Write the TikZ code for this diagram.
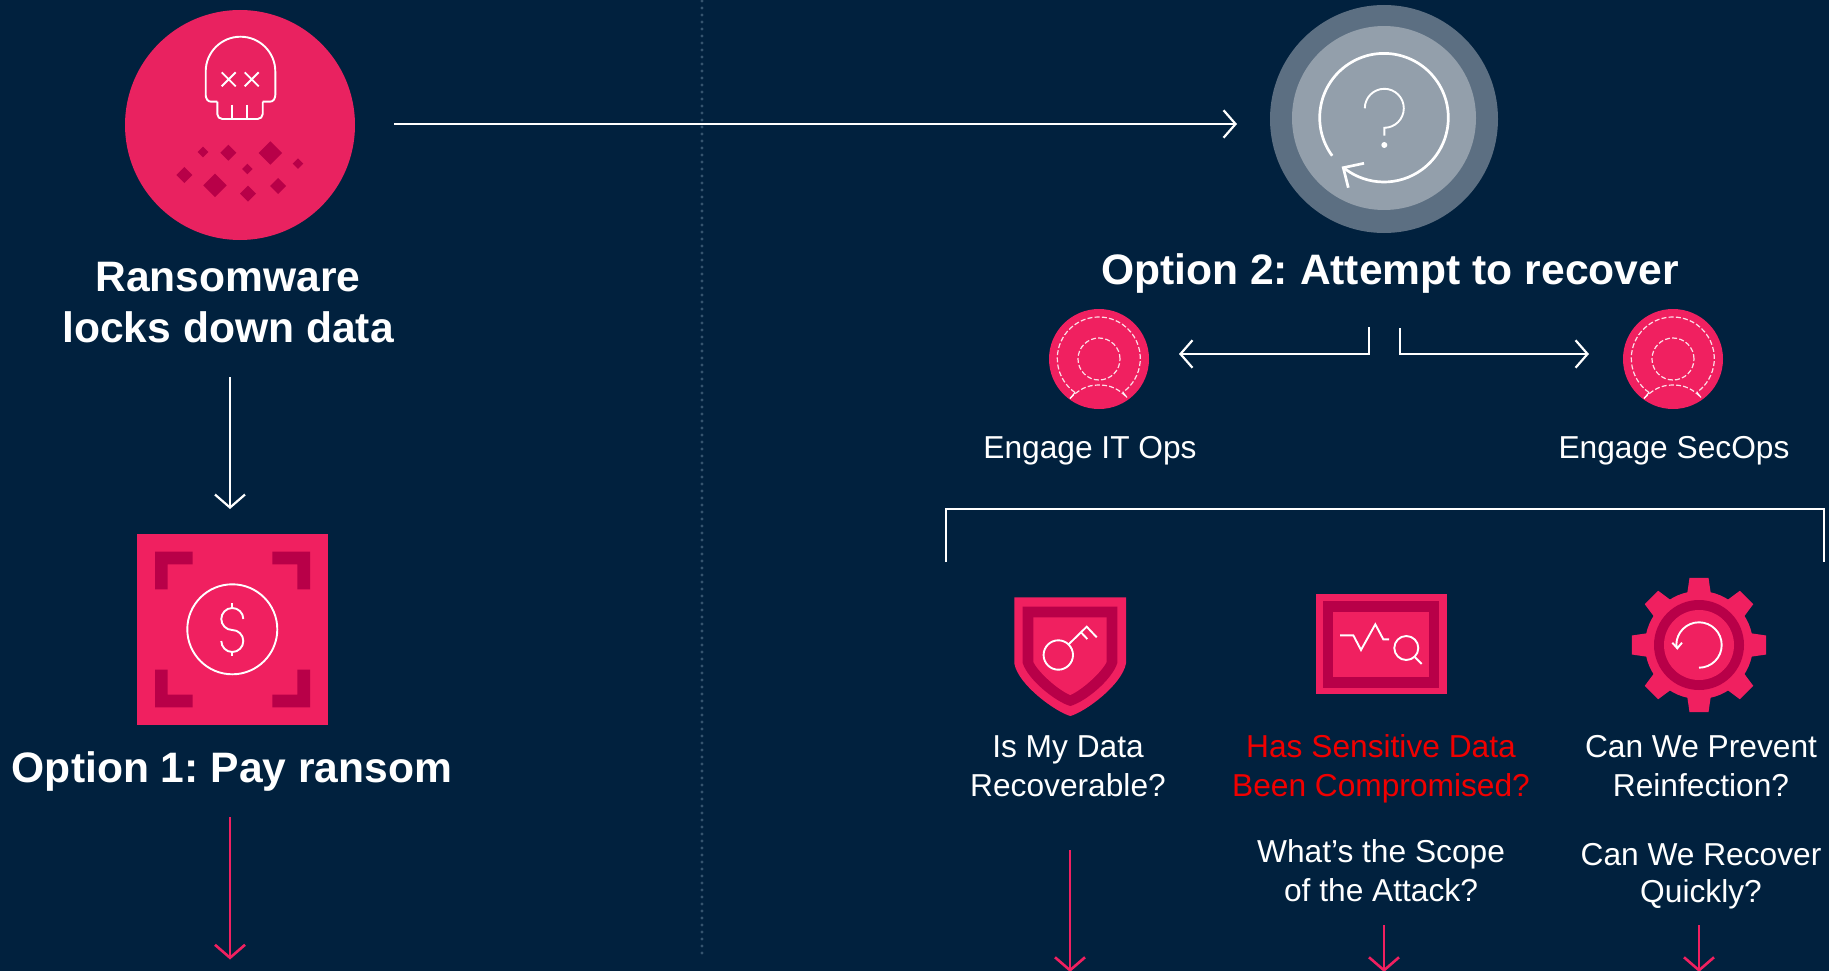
\documentclass[tikz,border=0pt]{standalone}
\usepackage{fontspec}
\setmainfont{Liberation Sans}
\usetikzlibrary{arrows.meta}
\frenchspacing
\definecolor{bgc}{HTML}{01213E}
\definecolor{pnk}{HTML}{F02060}
\definecolor{pnkb}{HTML}{E92260}
\definecolor{drk}{HTML}{B80048}
\definecolor{gro}{HTML}{5C6F82}
\definecolor{gri}{HTML}{939FAB}
\definecolor{dotc}{HTML}{35546E}
\definecolor{redt}{HTML}{F00000}
\tikzset{
  title/.style={text=white,align=center,inner sep=0pt,font=\fontsize{42.6}{51.5}\selectfont\bfseries},
  label/.style={text=white,align=center,inner sep=0pt,font=\fontsize{31.7}{38.7}\selectfont},
  redlabel/.style={label,text=redt},
  wline/.style={draw=white,line width=2.2pt,line join=miter},
  wbar/.style={wline,-{Straight Barb[length=13pt,width=30pt,line width=2.2pt]}},
  wbarh/.style={wline,-{Straight Barb[length=12pt,width=27.5pt,line width=2.2pt]}},
  pbar/.style={draw=pnk,line width=2.6pt,-{Straight Barb[length=13pt,width=30pt,line width=2.6pt]}},
  fineline/.style={draw=white,line width=1.9pt},
  dashline/.style={draw=white,draw opacity=.85,line width=1.2pt,dash pattern=on 5pt off 2.2pt},
  dia/.style={fill=drk,draw=none},
  person/.pic={
    \fill[pnk] (0,0) circle[radius=50];
    \draw[dashline] (-24,-33.5) arc[start angle=235,end angle=-55,radius=41.5];
    \draw[dashline] (0,0) circle[radius=21];
    \draw[dashline] (-29,-39.5) to[out=45,in=180] (0,-26) to[out=0,in=135] (28,-38.5);
    \draw[white,line width=1.1pt] (-24,-33.5) -- (-29,-39.5) (24,-33.5) -- (28,-38.5);
  }
}
\begin{document}
\begin{tikzpicture}[x=1pt,y=1pt]
\path[use as bounding box,fill=bgc] (0,0) rectangle (1829,-971);
\clip (0,0) rectangle (1829,-971);

% divider
\coordinate (divtop) at (702,-1);
\coordinate (divbot) at (702,-958);
\draw[dotc,line width=3.2pt,line cap=round,dash pattern=on 0pt off 7pt] (divtop) -- (divbot);

% ransomware icon
\fill[pnkb] (240,-125) circle[radius=115];
\draw[fineline,rounded corners=5pt] (217.3,-101.7) -- (217.3,-119) -- (262.7,-119) -- (262.7,-101.7);
\draw[fineline] (217.3,-101.7) -- (211,-101.7) to[out=180,in=-90] (205.7,-95) -- (205.7,-71.5)
  arc[start angle=180,end angle=0,radius=34.8] -- (275.3,-95) to[out=-90,in=0] (270,-101.7) -- (262.7,-101.7);
\draw[fineline] (232.3,-104.7) -- (232.3,-119) (247.3,-104.7) -- (247.3,-119);
\draw[fineline] (221.7,-72.3) -- (235.7,-86.3) (221.7,-86.3) -- (235.7,-72.3)
  (244.7,-72.3) -- (258.7,-86.3) (244.7,-86.3) -- (258.7,-72.3);
\foreach \zx/\zy/\h in {279/456/5.3,355/458/8,481/459/11.7,564/491/5.3,412/507/5.3,223/525/8,315/556/11.7,414/581/8,504/558/8}{
  \pgfmathsetmacro{\cx}{110+\zx/3}
  \pgfmathsetmacro{\cy}{-\zy/3}
  \fill[dia] (\cx-\h,\cy) -- (\cx,\cy+\h) -- (\cx+\h,\cy) -- (\cx,\cy-\h) -- cycle;
}
\node[title] (ransom) at (228,-302.5) {Ransomware\\locks down data};

% recover icon
\fill[gro] (1384,-119) circle[radius=114];
\fill[gri] (1384,-118) circle[radius=92];
\draw[white,line width=2.7pt] (1384,-117.7) ++(216.3:64.3) arc[start angle=216.3,end angle=-127.5,radius=64.3];
\draw[white,line width=2.7pt,line join=miter] (1364,-163.3) -- (1343.3,-167.7) -- (1348.3,-187.7);
\draw[fineline] (1364.8,-108.3) arc[start angle=180,end angle=-90,radius=19.5] -- (1384.3,-135.7);
\fill[white] (1384.3,-145) circle[radius=3];
\node[title] (opt2) at (1390,-273.5) {Option 2: Attempt to recover};

% top arrow
\coordinate (a1s) at (394,-124);
\coordinate (a1e) at (1237,-124);
\draw[wbarh] (a1s) -- (a1e);

% down arrow
\coordinate (a2s) at (230,-377);
\coordinate (a2e) at (230,-509);
\draw[wbar] (a2s) -- (a2e);

% pay icon
\fill[pnk] (137,-534) rectangle (328,-725);
\fill[drk] (155,-551.7) -- (192.7,-551.7) -- (192.7,-564.4) -- (167.7,-564.4) -- (167.7,-589.4) -- (155,-589.4) -- cycle;
\fill[drk] (310,-551.7) -- (272.3,-551.7) -- (272.3,-564.4) -- (297.3,-564.4) -- (297.3,-589.4) -- (310,-589.4) -- cycle;
\fill[drk] (155,-707.3) -- (192.7,-707.3) -- (192.7,-694.6) -- (167.7,-694.6) -- (167.7,-669.6) -- (155,-669.6) -- cycle;
\fill[drk] (310,-707.3) -- (272.3,-707.3) -- (272.3,-694.6) -- (297.3,-694.6) -- (297.3,-669.6) -- (310,-669.6) -- cycle;
\draw[fineline] (232.3,-629.3) circle[radius=45];
\draw[fineline] (243.3,-619) arc[start angle=0,end angle=270,radius=11] -- (232.3,-630) arc[start angle=90,end angle=-180,radius=11];
\draw[fineline] (232.3,-603.3) -- (232.3,-608) (232.3,-652) -- (232.3,-656);
\node[title] (opt1) at (232,-771.5) {Option 1: Pay ransom};
\coordinate (a3s) at (230,-817);
\coordinate (a3e) at (230,-959.5);
\draw[pbar] (a3s) -- (a3e);

% engage
\path (1099,-359) pic {person};
\path (1673,-359) pic {person};
\node[label] (itops) at (1090,-450.5) {Engage IT Ops};
\node[label] (secops) at (1674,-450.5) {Engage SecOps};
\coordinate (e1a) at (1369,-327);
\coordinate (e1b) at (1369,-354);
\coordinate (e1c) at (1179,-354);
\coordinate (e2a) at (1400,-328);
\coordinate (e2b) at (1400,-354);
\coordinate (e2c) at (1589,-354);
\draw[wbarh] (e1a) -- (e1b) -- (e1c);
\draw[wbarh] (e2a) -- (e2b) -- (e2c);

% bracket
\coordinate (b1) at (946,-562);
\coordinate (b2) at (946,-509);
\coordinate (b3) at (1824,-509);
\coordinate (b4) at (1824,-562);
\draw[wline] (b1) -- (b2) -- (b3) -- (b4);

% shield
\fill[pnk] (1014.3,-597.3) -- (1126,-597.3) -- (1126,-663.3) .. controls (1122,-685) and (1085,-712) .. (1070.3,-716) .. controls (1056,-712) and (1018,-685) .. (1014.3,-663.3) -- cycle;
\fill[drk] (1022.7,-606.7) -- (1117.3,-606.7) -- (1117.3,-663) .. controls (1112,-680) and (1085,-702) .. (1070.3,-706) .. controls (1056,-702) and (1028,-680) .. (1022.7,-663) -- cycle;
\fill[pnk] (1033.3,-617.3) -- (1106.7,-617.3) -- (1106.7,-661.7) .. controls (1102,-672) and (1082,-690) .. (1070.3,-695) .. controls (1058,-690) and (1038,-672) .. (1033.3,-661.7) -- cycle;
\draw[fineline] (1058.3,-655) circle[radius=14.7];
\draw[fineline,line join=miter] (1068.7,-644.3) -- (1086.7,-626.7) -- (1096.7,-637.3);
\draw[fineline] (1081,-632.3) -- (1087.3,-639);

% monitor
\fill[pnk] (1316,-594) rectangle (1447,-693.7);
\fill[drk] (1322.7,-601.3) rectangle (1439.3,-688.3);
\fill[pnk] (1333.3,-612) rectangle (1429,-677.3);
\draw[fineline] (1340,-635.3) -- (1353.3,-635.3) -- (1361,-650) -- (1375.3,-624.3) -- (1383.3,-639.3) -- (1389,-639.3);
\draw[fineline] (1406.3,-648) circle[radius=12];
\draw[fineline] (1415,-657.3) -- (1421.7,-664);

% gear
\foreach \a in {0,45,...,315}{
  \fill[pnk,shift={(1699,-645)},rotate=\a] (50,-12) -- (67.2,-9.5) -- (67.2,9.5) -- (50,12) -- cycle;
}
\fill[pnk] (1699,-645) circle[radius=54];
\fill[drk] (1699,-645) circle[radius=45];
\fill[pnk] (1699,-645) circle[radius=35];
\draw[fineline] (1699,-667.7) arc[start angle=-90,end angle=180,radius=22.7] -- (1677.3,-648.3);
\draw[fineline,line join=miter] (1672.3,-642.7) -- (1677.3,-648.3) -- (1682,-642.7);

% question labels
\node[label] (q1) at (1068,-766) {Is My Data\\Recoverable?};
\node[redlabel] (q2) at (1381,-769) {Has Sensitive Data\\Been Compromised?};
\node[label] (q3) at (1701,-766) {Can We Prevent\\Reinfection?};
\node[label] (q4) at (1381,-871) {What’s the Scope\\of the Attack?};
\node[label,font=\fontsize{31.7}{37}\selectfont] (q5) at (1701,-876) {Can We Recover\\Quickly?};

% pink arrows
\coordinate (p1s) at (1070,-850);
\coordinate (p1e) at (1070,-972);
\coordinate (p2s) at (1384,-925);
\coordinate (p2e) at (1384,-972);
\coordinate (p3s) at (1699,-925);
\coordinate (p3e) at (1699,-972);
\draw[pbar] (p1s) -- (p1e);
\draw[pbar] (p2s) -- (p2e);
\draw[pbar] (p3s) -- (p3e);
\end{tikzpicture}
\end{document}
